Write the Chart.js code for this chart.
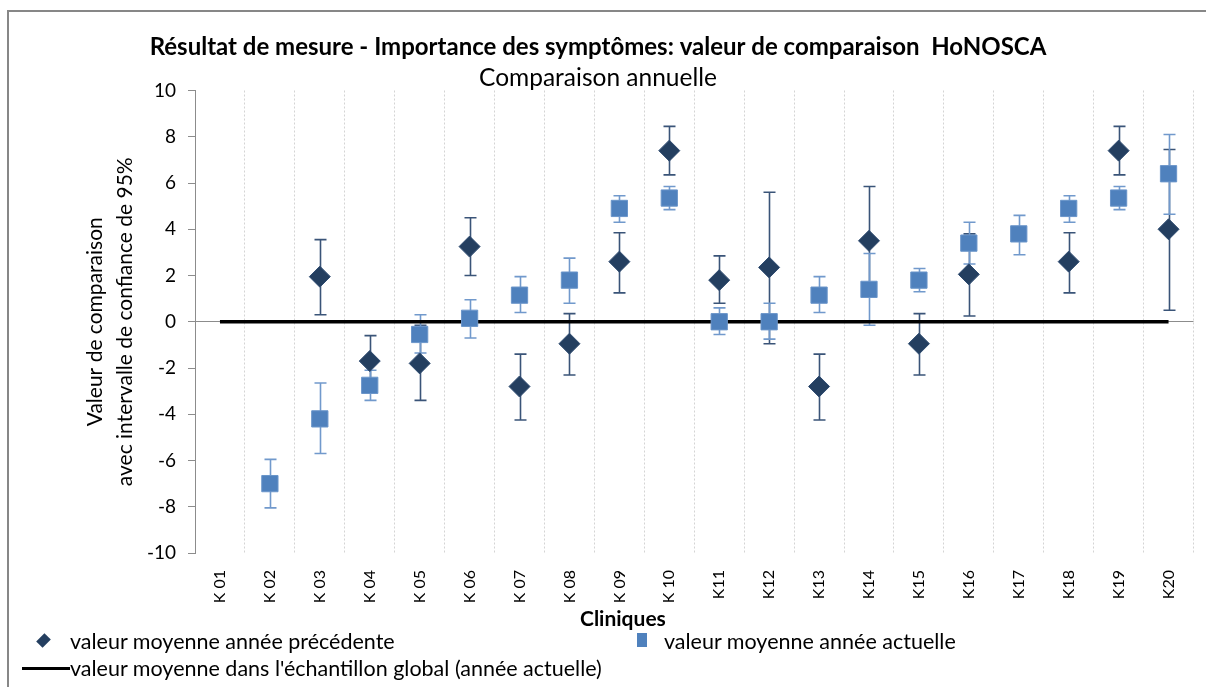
<!DOCTYPE html>
<html>
<head>
<meta charset="utf-8">
<script src="https://cdn.jsdelivr.net/npm/chart.js@4"></script>
<style>
  html, body { margin: 0; background: #fff; overflow: hidden; }
  #wrap { position: relative; width: 1206px; height: 687px; overflow: hidden; font-family: Lato, sans-serif; }
  #frame { position: absolute; left: 7px; top: 10px; width: 1300px; height: 800px; border-left: 2px solid #878787; border-top: 2px solid #878787; }
  #profil { position: absolute; left: 0; top: 0; }
  .leg { position: absolute; font-size: 21.5px; color: #000; white-space: nowrap; line-height: 24px; }
  .xt { position: absolute; font-size: 21px; font-weight: bold; color: #000; line-height: 24px; }
  .dia { position: absolute; width: 9px; height: 9px; background: #243F60; transform: rotate(45deg) scaleY(1.3); }
  .sq { position: absolute; width: 10px; height: 14px; background: #4F81BD; }
  .ln { position: absolute; height: 3px; background: #000; }
</style>
</head>
<body>
<div id="wrap">
  <div id="frame"></div>
  <canvas id="profil" width="1206" height="687"></canvas>
  <div class="xt" style="left:580px; top:606px;">Cliniques</div>
  <div class="dia" style="left:39px; top:636px;"></div>
  <div class="leg" style="left:70px; top:629px;">valeur moyenne année précédente</div>
  <div class="sq" style="left:637px; top:633px;"></div>
  <div class="leg" style="left:664px; top:629px;">valeur moyenne année actuelle</div>
  <div class="ln" style="left:22px; top:667px; width:48px;"></div>
  <div class="leg" style="left:70px; top:656px;">valeur moyenne dans l'échantillon global (année actuelle)</div>
</div>
<script>
var cliniques = ['K 01', 'K 02', 'K 03', 'K 04', 'K 05', 'K 06', 'K 07', 'K 08', 'K 09', 'K 10',
                 'K11', 'K12', 'K13', 'K14', 'K15', 'K16', 'K17', 'K18', 'K19', 'K20'];

// valeur moyenne année précédente + intervalle de confiance 95%
var precedente = [null, null, 1.95, -1.7, -1.8, 3.25, -2.8, -0.95, 2.6, 7.4,
                  1.8, 2.35, -2.8, 3.5, -0.95, 2.05, null, 2.6, 7.4, 4.0];
var precBas    = [null, null, 0.3, -2.8, -3.4, 2.0, -4.25, -2.3, 1.25, 6.35,
                  0.8, -0.95, -4.25, 1.15, -2.3, 0.25, null, 1.25, 6.35, 0.5];
var precHaut   = [null, null, 3.55, -0.6, -0.15, 4.5, -1.4, 0.35, 3.85, 8.45,
                  2.85, 5.6, -1.4, 5.85, 0.35, 3.8, null, 3.85, 8.45, 7.45];

// valeur moyenne année actuelle + intervalle de confiance 95%
var actuelle   = [null, -7.0, -4.2, -2.75, -0.55, 0.15, 1.15, 1.8, 4.9, 5.35,
                  0.0, 0.0, 1.15, 1.4, 1.8, 3.4, 3.8, 4.9, 5.35, 6.4];
var actBas     = [null, -8.05, -5.7, -3.4, -1.35, -0.7, 0.4, 0.8, 4.3, 4.85,
                  -0.55, -0.75, 0.4, -0.15, 1.3, 2.5, 2.9, 4.3, 4.85, 4.65];
var actHaut    = [null, -5.95, -2.65, -2.1, 0.3, 0.95, 1.95, 2.75, 5.45, 5.85,
                  0.6, 0.8, 1.95, 2.95, 2.3, 4.3, 4.6, 5.45, 5.85, 8.1];

// valeur moyenne dans l'échantillon global
var moyenneGlobale = [0, 0, 0, 0, 0, 0, 0, 0, 0, 0, 0, 0, 0, 0, 0, 0, 0, 0, 0, 0];

var yTicks = [-10, -8, -6, -4, -2, 0, 2, 4, 6, 8, 10];

// barres d'erreur dessinées sous les marqueurs
var errorBars = {
    id: 'errorBars',
    beforeDatasetsDraw: function (chart) {
        var c = chart.ctx, x = chart.scales.x, y = chart.scales.y;
        var sets = [
            { lo: precBas, hi: precHaut, color: '#3A5478' },
            { lo: actBas, hi: actHaut, color: '#7199CC' }
        ];
        c.save();
        c.lineWidth = 1.6;
        sets.forEach(function (s) {
            c.strokeStyle = s.color;
            for (var i = 0; i < cliniques.length; i++) {
                if (s.lo[i] === null) continue;
                var px = Math.round(x.getPixelForValue(i)) + 0.5;
                var y1 = y.getPixelForValue(s.lo[i]);
                var y2 = y.getPixelForValue(s.hi[i]);
                c.beginPath();
                c.moveTo(px, y1); c.lineTo(px, y2);
                c.moveTo(px - 6, y1); c.lineTo(px + 6, y1);
                c.moveTo(px - 6, y2); c.lineTo(px + 6, y2);
                c.stroke();
            }
        });
        c.restore();
    }
};

var ctx = document.getElementById('profil');
var profil = new Chart(ctx, {
    type: 'line',
    data: {
        labels: cliniques,
        datasets: [{
            label: 'valeur moyenne année précédente',
            data: precedente,
            showLine: false,
            pointStyle: 'rectRot',
            pointRadius: 10.5,
            pointBackgroundColor: '#243F60',
            pointBorderColor: '#2E4B70',
            pointBorderWidth: 1,
            order: 1
        }, {
            label: 'valeur moyenne année actuelle',
            data: actuelle,
            showLine: false,
            pointStyle: 'rect',
            pointRadius: 11.5,
            pointBackgroundColor: '#4F81BD',
            pointBorderColor: '#6A95CA',
            pointBorderWidth: 1,
            order: 2
        }, {
            label: "valeur moyenne dans l'échantillon global (année actuelle)",
            data: moyenneGlobale,
            borderColor: '#000',
            borderWidth: 3.5,
            pointRadius: 0,
            order: 3
        }]
    },
    plugins: [errorBars],
    options: {
        responsive: false,
        animation: false,
        layout: { padding: { top: 10, right: 10, bottom: 57, left: 0 } },
        plugins: {
            legend: { display: false },
            tooltip: { enabled: false },
            title: {
                display: true,
                text: 'Résultat de mesure - Importance des symptômes: valeur de comparaison  HoNOSCA',
                color: '#000',
                font: { family: 'Lato', size: 24, weight: 'bold', lineHeight: 1.0 },
                padding: { top: 25, bottom: 0 }
            },
            subtitle: {
                display: true,
                text: 'Comparaison annuelle',
                color: '#000',
                font: { family: 'Lato', size: 24.5, lineHeight: 1.0 },
                padding: { top: 7, bottom: 0 }
            }
        },
        scales: {
            x: {
                offset: true,
                grid: {
                    offset: true,
                    drawTicks: false,
                    color: '#D4D4D4',
                    lineWidth: 1
                },
                border: { display: false, dash: [2, 2] },
                ticks: {
                    color: '#000',
                    font: { family: 'Lato', size: 16 },
                    minRotation: 90,
                    maxRotation: 90,
                    padding: 17,
                    autoSkip: false
                },
                afterFit: function (scale) { scale.height = 77; }
            },
            y: {
                min: -10,
                max: 10,
                afterBuildTicks: function (scale) {
                    scale.ticks = yTicks.map(function (v) { return { value: v }; });
                },
                grid: {
                    color: function (c) { return c.tick && c.tick.value === 0 ? '#8C8C8C' : 'rgba(0,0,0,0)'; },
                    tickColor: '#8C8C8C',
                    tickLength: 7,
                    lineWidth: 1
                },
                border: { color: '#8C8C8C', width: 1 },
                ticks: {
                    color: '#000',
                    font: { family: 'Lato', size: 19 },
                    padding: 12
                },
                title: {
                    display: true,
                    text: ['Valeur de comparaison', 'avec intervalle de confiance de 95%'],
                    color: '#000',
                    font: { family: 'Lato', size: 21, lineHeight: 1.43 },
                    padding: { top: 80, bottom: 0 }
                },
                afterFit: function (scale) { scale.width = 195; }
            }
        }
    }
});
</script>
</body>
</html>
